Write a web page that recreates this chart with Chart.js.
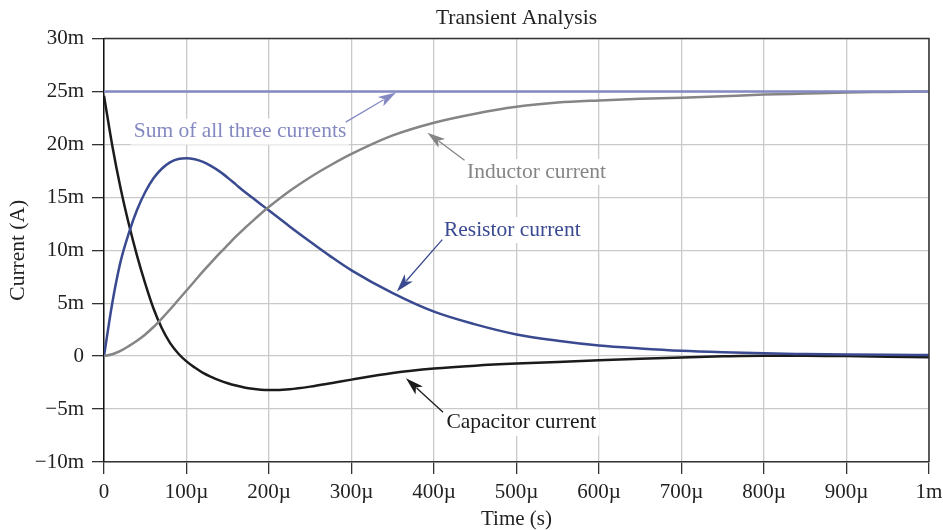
<!DOCTYPE html>
<html>
<head>
<meta charset="utf-8">
<script src="https://cdn.jsdelivr.net/npm/chart.js@4"></script>
<style>
  html, body { margin: 0; padding: 0; background: #fff; }
  #wrap { width: 943px; height: 530px; }
</style>
</head>
<body>
<div id="wrap"><canvas id="chart" width="943" height="530"></canvas></div>
<script>
// time in microseconds, currents in milliamps
const timeUs = [0, 10, 20, 30, 40, 50, 60, 70, 80, 90, 100, 110, 120, 130, 140, 150, 160, 170, 180, 190, 200,
  225, 250, 275, 300, 350, 400, 450, 500, 550, 600, 650, 700, 750, 800, 850, 900, 950, 1000];

const capacitor = [24.6, 19.9, 15.9, 12.5, 9.5, 6.85, 4.5, 2.65, 1.25, 0.25, -0.5, -1.08, -1.58, -1.96, -2.29, -2.56, -2.78, -2.96, -3.09, -3.17, -3.2,
  -3.12, -2.88, -2.56, -2.22, -1.6, -1.18, -0.9, -0.7, -0.55, -0.4, -0.25, -0.12, -0.02, 0.04, 0.04, 0, -0.05, -0.1];

const resistor = [0, 5.0, 8.9, 11.6, 13.8, 15.5, 16.8, 17.7, 18.3, 18.62, 18.7, 18.6, 18.35, 17.95, 17.45, 16.85, 16.2, 15.55, 14.95, 14.35, 13.75,
  12.25, 10.8, 9.4, 8.1, 5.95, 4.2, 3.0, 2.05, 1.45, 1.0, 0.72, 0.5, 0.36, 0.26, 0.2, 0.15, 0.12, 0.1];

const inductor = [0, 0.18, 0.5, 0.95, 1.45, 2.05, 2.75, 3.55, 4.4, 5.3, 6.2, 7.1, 8.0, 8.85, 9.7, 10.5, 11.3, 12.05, 12.75, 13.45, 14.1,
  15.6, 16.9, 18.05, 19.1, 20.85, 22.05, 22.9, 23.55, 23.95, 24.15, 24.3, 24.4, 24.55, 24.7, 24.8, 24.9, 24.95, 25.0];

const sumTime = [0, 1000];
const sumOfAll = [25, 25];

const xTickMax = 1000;

const COLOR_CAP = "#1b1b1b";
const COLOR_RES = "#3a4a91";
const COLOR_IND = "#858585";
const COLOR_SUM = "#8589c2";
const FONT = "Liberation Serif";

// labels with arrows, anchored in data units
const notes = [
  { text: "Sum of all three currents", color: COLOR_SUM, x: 36, y: 21.2, from: [293, 22.1], to: [354, 24.9] },
  { text: "Inductor current", color: COLOR_IND, x: 440, y: 17.4, from: [437, 18.5], to: [392, 21.1] },
  { text: "Resistor current", color: COLOR_RES, x: 412, y: 11.9, from: [410, 11.0], to: [355, 6.1] },
  { text: "Capacitor current", color: COLOR_CAP, x: 415, y: -6.3, from: [411, -5.3], to: [366, -2.1] },
];

function pts(xs, ys) {
  return xs.map((x, i) => ({ x, y: ys[i] }));
}

const frame = {
  id: "frame",
  afterDraw(chart) {
    const { ctx, chartArea: a } = chart;
    ctx.save();
    ctx.strokeStyle = "#333";
    ctx.lineWidth = 1.5;
    ctx.beginPath();
    ctx.moveTo(a.left, a.top);
    ctx.lineTo(a.right, a.top);
    ctx.lineTo(a.right, a.bottom);
    ctx.stroke();
    ctx.restore();
  },
};

const labels = {
  id: "labels",
  afterDatasetsDraw(chart) {
    const { ctx } = chart;
    const xs = chart.scales.x, ys = chart.scales.y;
    ctx.save();
    ctx.font = "21.5px " + FONT;
    ctx.textBaseline = "middle";
    notes.forEach((n) => {
      const px = xs.getPixelForValue(n.x), py = ys.getPixelForValue(n.y);
      const w = ctx.measureText(n.text).width;
      ctx.fillStyle = "#fff";
      ctx.fillRect(px - 3, py - 13, w + 6, 26);
      ctx.fillStyle = n.color;
      ctx.fillText(n.text, px, py);

      const x1 = xs.getPixelForValue(n.from[0]), y1 = ys.getPixelForValue(n.from[1]);
      const x2 = xs.getPixelForValue(n.to[0]), y2 = ys.getPixelForValue(n.to[1]);
      const ang = Math.atan2(y2 - y1, x2 - x1);
      const len = 18, half = 5.5;
      ctx.strokeStyle = n.color;
      ctx.lineWidth = 1.3;
      ctx.beginPath();
      ctx.moveTo(x1, y1);
      ctx.lineTo(x2 - Math.cos(ang) * len * 0.8, y2 - Math.sin(ang) * len * 0.8);
      ctx.stroke();
      const bx = x2 - Math.cos(ang) * len, by = y2 - Math.sin(ang) * len;
      ctx.beginPath();
      ctx.moveTo(x2, y2);
      ctx.lineTo(bx + Math.sin(ang) * half, by - Math.cos(ang) * half);
      ctx.lineTo(x2 - Math.cos(ang) * len * 0.75, y2 - Math.sin(ang) * len * 0.75);
      ctx.lineTo(bx - Math.sin(ang) * half, by + Math.cos(ang) * half);
      ctx.closePath();
      ctx.fillStyle = n.color;
      ctx.fill();
    });
    ctx.restore();
  },
};

const line = (data, color, width) => ({
  data,
  borderColor: color,
  borderWidth: width,
  pointRadius: 0,
  fill: false,
  cubicInterpolationMode: "monotone",
});

new Chart(document.getElementById("chart"), {
  type: "line",
  data: {
    datasets: [
      line(pts(sumTime, sumOfAll), COLOR_SUM, 2.5),
      line(pts(timeUs, inductor), COLOR_IND, 2.5),
      line(pts(timeUs, resistor), COLOR_RES, 2.5),
      line(pts(timeUs, capacitor), COLOR_CAP, 2.5),
    ],
  },
  options: {
    responsive: false,
    animation: false,
    layout: { padding: { left: 0, right: 14, top: 0, bottom: 0 } },
    scales: {
      x: {
        type: "linear",
        min: 0,
        max: xTickMax,
        border: { color: "#333", width: 1.5 },
        grid: { color: "#c9c9c9", lineWidth: 1.3, tickColor: "#333", tickLength: 12 },
        ticks: {
          stepSize: 100,
          color: "#222",
          padding: 6,
          maxRotation: 0,
          font: { family: FONT, size: 21 },
          callback: (v) => (v === 0 ? "0" : v === xTickMax ? "1m" : v + "µ"),
        },
        title: { display: true, text: "Time (s)", color: "#222", font: { family: FONT, size: 21, lineHeight: 1 }, padding: 0 },
        afterFit: (s) => { s.height = 68; s.paddingLeft = 0; s.paddingRight = 0; },
      },
      y: {
        min: -10,
        max: 30,
        border: { color: "#111", width: 1.5 },
        grid: { color: "#c9c9c9", lineWidth: 1.3, tickColor: "#333", tickLength: 12 },
        ticks: {
          stepSize: 5,
          color: "#222",
          padding: 8,
          font: { family: FONT, size: 21 },
          callback: (v) => (v === 0 ? "0" : (v < 0 ? "\u2212" + -v : v) + "m"),
        },
        title: { display: true, text: "Current (A)", color: "#222", font: { family: FONT, size: 21.5 }, padding: { top: 5, bottom: 0 } },
        afterFit: (s) => { s.width = 104; },
      },
    },
    plugins: {
      legend: { display: false },
      tooltip: { enabled: false },
      title: {
        display: true,
        fullSize: false,
        text: "Transient Analysis",
        color: "#222",
        font: { family: FONT, size: 21.5, weight: "normal", lineHeight: 1 },
        padding: { top: 8, bottom: 9 },
      },
    },
  },
  plugins: [frame, labels],
});
</script>
</body>
</html>
